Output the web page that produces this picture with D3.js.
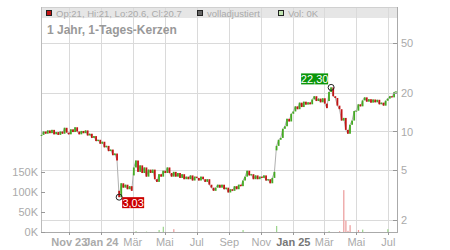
<!DOCTYPE html>
<html>
<head>
<meta charset="utf-8">
<script src="https://cdn.jsdelivr.net/npm/d3@7/dist/d3.min.js"></script>
<style>
  body { margin: 0; background: #fff; }
  text { font-family: "Liberation Sans", Arial, sans-serif; }
</style>
</head>
<body>
<div id="chart"></div>
<script>
/* jshint esversion: 6 */

// one candle every 4 calendar days, starting here
const startDate = new Date(2023, 8, 9);
const stepDays = 4;

const closes = [
  9.4, 10.0, 9.6, 10.2, 9.7, 10.3, 9.5, 9.9, 9.4, 10.0,
  9.6, 10.7, 9.8, 9.5, 10.4, 9.9, 10.8, 10.0, 9.5, 10.1,
  9.7, 10.2, 9.3, 9.6, 8.9, 9.2, 8.4, 8.6, 8.0, 8.3,
  7.5, 7.7, 7.0, 7.2, 6.5, 6.7, 5.9, 3.03, 3.9, 3.6,
  3.8, 3.5, 3.7, 3.4, 5.2, 5.9, 4.8, 5.4, 4.7, 5.2,
  4.4, 5.0, 4.7, 5.0, 4.2, 4.0, 4.6, 4.4, 4.9, 4.7,
  5.2, 4.7, 4.4, 4.8, 4.4, 4.7, 4.3, 4.6, 4.2, 4.4,
  4.2, 4.5, 4.1, 4.4, 4.3, 4.1, 4.4, 4.2, 4.0, 4.2,
  3.8, 3.6, 3.4, 3.6, 3.8, 3.6, 3.8, 3.5, 3.6, 3.3,
  3.5, 3.4, 3.7, 3.5, 3.8, 3.7, 4.1, 4.4, 4.9, 4.5,
  4.6, 4.2, 4.5, 4.2, 4.4, 4.3, 4.5, 4.1, 4.2, 3.9,
  4.3, 4.8, 7.7, 8.6, 8.9, 10.5, 11.0, 12.6, 12.0, 13.8,
  14.4, 15.8, 15.0, 16.9, 15.6, 17.2, 16.3, 17.0, 16.4, 17.9,
  19.0, 17.4, 18.2, 17.0, 18.3, 16.6, 15.3, 20.5, 22.3, 19.0,
  18.4, 16.0, 15.0, 12.2, 12.8, 10.3, 9.6, 11.3, 12.2, 14.5,
  14.6, 16.4, 15.8, 17.6, 18.6, 17.2, 18.0, 16.9, 17.9, 17.0,
  17.8, 16.4, 16.9, 16.0, 17.5, 18.2, 19.0, 18.6, 20.4, 20.7
];

// days that opened with a gap (open is not the previous close)
const gapIdx = [37, 44, 112, 137];
const gapOpen = [3.4, 4.5, 7.1, 17.4];

// volume bars (index into closes, thousands, up/down)
const volIdx = [45, 50, 56, 58, 63, 96, 112, 137, 142, 144, 145, 146, 147, 151, 153, 165];
const volK = [2, 1, 5, 13, 7, 5, 15, 2, 2, 104, 28, 3, 17, 5, 6, 7];
const volUp = [1, 1, 1, 1, 0, 1, 1, 1, 0, 0, 0, 0, 0, 0, 1, 1];

const priceTicks = [2, 5, 10, 20, 50];
const volTicks = [0, 50, 100, 150];

const monthDates = [
  new Date(2023, 10, 1), new Date(2024, 0, 1), new Date(2024, 2, 1), new Date(2024, 4, 1),
  new Date(2024, 6, 1), new Date(2024, 8, 1), new Date(2024, 10, 1), new Date(2025, 0, 1),
  new Date(2025, 2, 1), new Date(2025, 4, 1), new Date(2025, 6, 1)
];
const monthLabels = ["Nov 23", "Jan 24", "Mär", "Mai", "Jul", "Sep", "Nov", "Jan 25", "Mär", "Mai", "Jul"];

const extremeIdx = [37, 138];
const extremeVal = [3.03, 22.3];
const extremeText = ["3,03", "22,30"];

const legendText = ["Op:21, Hi:21, Lo:20.6, Cl:20.7", "volladjustiert", "Vol: 0K"];

// frame
const W = 450, H = 250;
const L = 41, R = 397, T = 7, B = 232;

const svg = d3.select("#chart").append("svg")
  .attr("width", W).attr("height", H);

const x = d3.scaleTime()
  .domain([new Date(2023, 10, 1), new Date(2025, 6, 1)])
  .range([69.3, 388.3]);
const y = d3.scaleLog().domain([2, 50]).range([220, 43]);
const yVol = d3.scaleLinear().domain([0, 150]).range([B, 171.6]);

const dateAt = i => d3.timeDay.offset(startDate, i * stepDays);

const candles = closes.map(function(c, i) {
  let g = gapIdx.indexOf(i);
  let open = g >= 0 ? gapOpen[g] : (i > 0 ? closes[i - 1] : c);
  return {date: dateAt(i), open: open, close: c};
});

// legend band
svg.append("rect").attr("x", L).attr("y", T).attr("width", R - L).attr("height", 11)
  .attr("fill", "#e6e6e6");

// grid
svg.append("g").selectAll("line").data(monthDates).join("line")
  .attr("x1", d => Math.round(x(d)) + 0.5).attr("x2", d => Math.round(x(d)) + 0.5)
  .attr("y1", T).attr("y2", B)
  .attr("stroke", "#dadada");
svg.append("g").selectAll("line").data(priceTicks).join("line")
  .attr("x1", L).attr("x2", R)
  .attr("y1", d => Math.round(y(d)) + 0.5).attr("y2", d => Math.round(y(d)) + 0.5)
  .attr("stroke", "#dadada");

// frame lines
svg.append("line").attr("x1", L + 0.5).attr("x2", R + 0.5).attr("y1", T + 0.5).attr("y2", T + 0.5).attr("stroke", "#d0d0d0");
svg.append("line").attr("x1", L + 0.5).attr("x2", L + 0.5).attr("y1", T).attr("y2", B).attr("stroke", "#bbb");
svg.append("line").attr("x1", R + 0.5).attr("x2", R + 0.5).attr("y1", T).attr("y2", B + 1).attr("stroke", "#aaa");
svg.append("line").attr("x1", L).attr("x2", R + 1).attr("y1", B + 0.5).attr("y2", B + 0.5).attr("stroke", "#aaa");

// volume
svg.append("g").selectAll("rect").data(volIdx).join("rect")
  .attr("x", d => x(dateAt(d)) - 0.5)
  .attr("width", 1.2)
  .attr("y", (d, i) => yVol(volK[i]))
  .attr("height", (d, i) => B - yVol(volK[i]))
  .attr("fill", (d, i) => volUp[i] ? "#9ad48a" : "#ec9a9a");

// close line, then candle bodies on top
svg.append("path").datum(candles)
  .attr("d", d3.line().x(d => x(d.date)).y(d => y(d.close)))
  .attr("fill", "none").attr("stroke", "#b0b0b0").attr("stroke-width", 1);

svg.append("g").selectAll("rect").data(candles).join("rect")
  .attr("x", d => x(d.date) - 0.9)
  .attr("width", 1.8)
  .attr("y", d => y(Math.max(d.open, d.close)))
  .attr("height", d => Math.max(1, Math.abs(y(d.open) - y(d.close))))
  .attr("fill", d => d.close >= d.open ? "#44aa22" : "#c41414");

// right price axis
const ra = svg.append("g");
ra.selectAll("line").data(priceTicks).join("line")
  .attr("x1", R - 4).attr("x2", R)
  .attr("y1", d => Math.round(y(d)) + 0.5).attr("y2", d => Math.round(y(d)) + 0.5)
  .attr("stroke", "#999");
ra.selectAll("text").data(priceTicks).join("text")
  .attr("x", R + 4).attr("y", d => y(d) + 4)
  .attr("font-size", 11).attr("fill", "#aaa")
  .text(d => d);

// left volume axis
const la = svg.append("g");
la.selectAll("line").data(volTicks).join("line")
  .attr("x1", L).attr("x2", L + 4)
  .attr("y1", d => Math.round(yVol(d)) + 0.5).attr("y2", d => Math.round(yVol(d)) + 0.5)
  .attr("stroke", "#999");
la.selectAll("text").data(volTicks).join("text")
  .attr("x", L - 3).attr("y", d => yVol(d) + 4)
  .attr("text-anchor", "end")
  .attr("font-size", 11).attr("fill", "#aaa")
  .text(d => d + "K");

// bottom time axis
const ba = svg.append("g");
ba.selectAll("line").data(monthDates).join("line")
  .attr("x1", d => Math.round(x(d)) + 0.5).attr("x2", d => Math.round(x(d)) + 0.5)
  .attr("y1", B).attr("y2", B + 3)
  .attr("stroke", "#999");
ba.selectAll("text").data(monthDates).join("text")
  .attr("x", d => x(d)).attr("y", 245.5)
  .attr("text-anchor", "middle")
  .attr("font-size", 11)
  .attr("font-weight", (d, i) => monthLabels[i].indexOf(" ") > 0 ? "bold" : "normal")
  .attr("fill", (d, i) => monthLabels[i] === "Jan 25" ? "#777" : "#aaa")
  .text((d, i) => monthLabels[i]);

// title
svg.append("text").attr("x", 47).attr("y", 34)
  .attr("font-size", 12).attr("font-weight", "bold").attr("fill", "#999")
  .text("1 Jahr, 1-Tages-Kerzen");

// legend
const legendX = [46.5, 197.5, 278.5];
const legendFill = ["#c41414", "#666", "#bfe3b0"];
legendText.forEach(function(t, i) {
  svg.append("rect").attr("x", legendX[i]).attr("y", 10.5).attr("width", 5).attr("height", 5)
    .attr("fill", legendFill[i]).attr("stroke", "#222").attr("stroke-width", 1);
  svg.append("text").attr("x", legendX[i] + 9.5).attr("y", 16.5)
    .attr("font-size", 9.5).attr("fill", "#aaa")
    .text(t);
});

// high / low markers
extremeIdx.forEach(function(idx, i) {
  let cx = x(dateAt(idx)), cy = y(extremeVal[i]);
  svg.append("circle").attr("cx", cx).attr("cy", cy).attr("r", 3)
    .attr("fill", "none").attr("stroke", "#222");
  let isLow = i === 0;
  let bw = isLow ? 22 : 27, bh = 11;
  let bx = isLow ? cx + 3 : cx - 30;
  let by = isLow ? cy : cy - 14;
  svg.append("rect").attr("x", bx).attr("y", by).attr("width", bw).attr("height", bh)
    .attr("fill", isLow ? "#cc0000" : "#0a960a");
  svg.append("text").attr("x", bx + bw / 2).attr("y", by + 9.5)
    .attr("text-anchor", "middle").attr("font-size", 11).attr("fill", "#fff")
    .text(extremeText[i]);
});
</script>
</body>
</html>
